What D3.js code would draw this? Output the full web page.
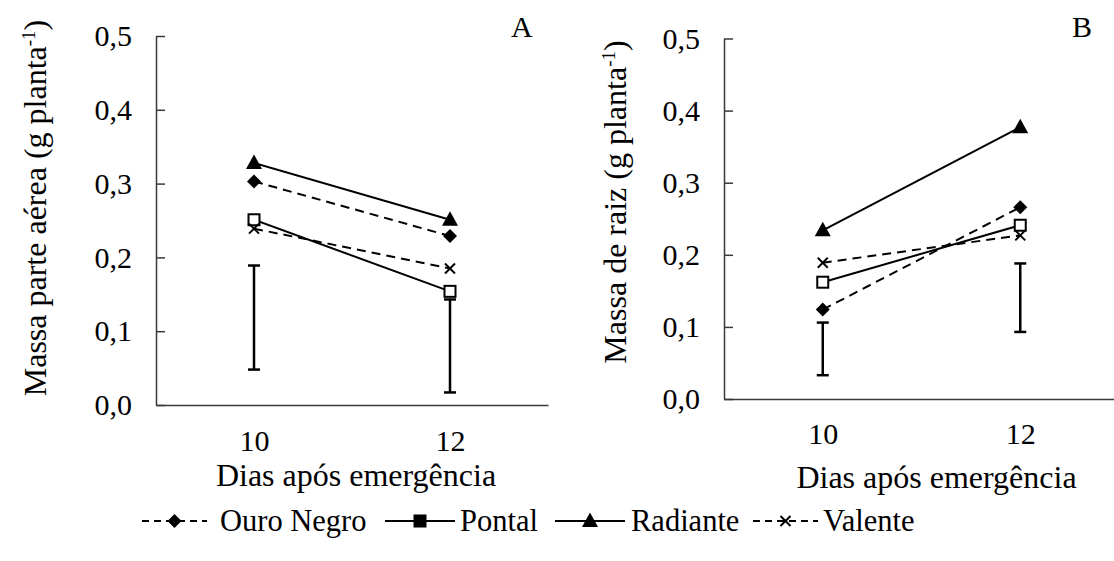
<!DOCTYPE html>
<html>
<head>
<meta charset="utf-8">
<script src="https://cdn.jsdelivr.net/npm/d3@7/dist/d3.min.js"></script>
<style>
  html, body { margin: 0; padding: 0; background: #fff; }
  svg { display: block; }
</style>
</head>
<body>
<svg id="chart" width="1114" height="561" font-family="Liberation Serif, Times New Roman, serif"></svg>
<script>
// Days after emergence (x categories) and y tick values
const days = ["10", "12"];
const yTicks = [0, 0.1, 0.2, 0.3, 0.4, 0.5];

// Panel A: shoot dry mass (g per plant)
const ouroNegroA = [0.303, 0.229];
const pontalA    = [0.251, 0.154];
const radianteA  = [0.328, 0.251];
const valenteA   = [0.239, 0.185];
const errLowA    = [0.048, 0.017];
const errHighA   = [0.189, 0.143];

// Panel B: root dry mass (g per plant)
const ouroNegroB = [0.124, 0.266];
const pontalB    = [0.162, 0.241];
const radianteB  = [0.234, 0.377];
const valenteB   = [0.189, 0.227];
const errLowB    = [0.033, 0.093];
const errHighB   = [0.106, 0.188];

// Cultivar names
const cultivars = ["Ouro Negro", "Pontal", "Radiante", "Valente"];

const svg = d3.select("#chart");
const FS = 30;        // tick labels
const FS_TITLE = 32;  // axis titles
const FS_LEGEND = 30.5;
const FONT = "Liberation Serif, Times New Roman, serif";

// Series styling per cultivar
const styles = {
  "Ouro Negro": { dash: "9,6", symbol: "diamond" },
  "Pontal":     { dash: null,  symbol: "square" },
  "Radiante":   { dash: null,  symbol: "triangle" },
  "Valente":    { dash: "9,6", symbol: "cross" }
};

function drawMarker(g, type, x, y, hollowSquare) {
  if (type === "diamond") {
    g.append("path")
      .attr("d", `M${x},${y - 7}L${x + 7},${y}L${x},${y + 7}L${x - 7},${y}Z`)
      .attr("fill", "#000");
  } else if (type === "square") {
    g.append("rect")
      .attr("x", x - 5.5).attr("y", y - 5.5)
      .attr("width", 11).attr("height", 11)
      .attr("fill", hollowSquare ? "#fff" : "#000")
      .attr("stroke", "#000").attr("stroke-width", 2);
  } else if (type === "triangle") {
    g.append("path")
      .attr("d", `M${x},${y - 8.5}L${x + 8},${y + 6}L${x - 8},${y + 6}Z`)
      .attr("fill", "#000");
  } else if (type === "cross") {
    g.append("path")
      .attr("d", `M${x - 5},${y - 5}L${x + 5},${y + 5}M${x - 5},${y + 5}L${x + 5},${y - 5}`)
      .attr("stroke", "#000").attr("stroke-width", 2).attr("fill", "none");
  }
}

function addText(g, size) {
  return g.append("text")
    .attr("font-family", FONT)
    .attr("font-size", size)
    .attr("fill", "#000");
}

function drawPanel(cfg) {
  const g = svg.append("g");
  const x = d3.scalePoint().domain(days).range([cfg.left, cfg.right]).padding(0.5);
  const y = d3.scaleLinear().domain([0, 0.5]).range([cfg.bottom, cfg.top]);

  // y axis with inward ticks
  const yAxis = d3.axisLeft(y)
    .tickValues(yTicks)
    .tickSizeInner(-9)
    .tickSizeOuter(0)
    .tickPadding(24)
    .tickFormat(d => d.toFixed(1).replace(".", ","));
  const ya = g.append("g").attr("transform", `translate(${cfg.left},0)`).call(yAxis)
    .attr("font-family", FONT).attr("font-size", FS);
  ya.selectAll("text").attr("fill", "#000");
  ya.selectAll("line, path").attr("stroke", "#3a3a3a").attr("stroke-width", 1.5);

  // x axis
  const xAxis = d3.axisBottom(x).tickSize(0).tickSizeOuter(0).tickPadding(cfg.xTickPad);
  const xa = g.append("g").attr("transform", `translate(0,${cfg.bottom})`).call(xAxis)
    .attr("font-family", FONT).attr("font-size", FS);
  xa.selectAll("text").attr("fill", "#000");
  xa.select(".domain").attr("stroke", "#3a3a3a").attr("stroke-width", 1.5);

  // x title
  addText(g, FS_TITLE)
    .attr("x", (x(days[0]) + x(days[1])) / 2 + cfg.xTitleShift)
    .attr("y", cfg.bottom + cfg.xTitleDy)
    .attr("text-anchor", "middle")
    .text("Dias após emergência");

  // y title with superscript
  const yt = addText(g, FS_TITLE)
    .attr("transform", `translate(${cfg.yTitleX},${cfg.yTitleY}) rotate(-90)`)
    .attr("text-anchor", "middle");
  yt.append("tspan").text(cfg.yTitle + " (g planta");
  yt.append("tspan").attr("dy", -11).attr("font-size", 19).text("-1");
  yt.append("tspan").attr("dy", 11).text(")");

  // panel letter
  addText(g, FS)
    .attr("x", cfg.letterX).attr("y", 37)
    .text(cfg.letter);

  // error bars
  days.forEach((d, i) => {
    const cx = x(d);
    const y1 = y(cfg.errLow[i]), y2 = y(cfg.errHigh[i]);
    g.append("line").attr("x1", cx).attr("x2", cx).attr("y1", y1).attr("y2", y2)
      .attr("stroke", "#000").attr("stroke-width", 2.5);
    [y1, y2].forEach(yy => g.append("line")
      .attr("x1", cx - 6).attr("x2", cx + 6).attr("y1", yy).attr("y2", yy)
      .attr("stroke", "#000").attr("stroke-width", 2.5));
  });

  // series lines and markers
  const line = d3.line().x((v, i) => x(days[i])).y(v => y(v));
  cultivars.forEach(name => {
    const vals = cfg.series[name];
    const st = styles[name];
    g.append("path").datum(vals)
      .attr("d", line)
      .attr("fill", "none").attr("stroke", "#000").attr("stroke-width", 2)
      .attr("stroke-dasharray", st.dash);
  });
  cultivars.forEach(name => {
    const vals = cfg.series[name];
    vals.forEach((v, i) => drawMarker(g, styles[name].symbol, x(days[i]), y(v), true));
  });
}

drawPanel({
  letter: "A", letterX: 511,
  left: 156, right: 548, top: 36, bottom: 405,
  yTitleX: 46, yTitleY: 208,
  xTickPad: 25, xTitleShift: 4, xTitleDy: 81,
  yTitle: "Massa parte aérea",
  errLow: errLowA, errHigh: errHighA,
  series: { "Ouro Negro": ouroNegroA, "Pontal": pontalA, "Radiante": radianteA, "Valente": valenteA }
});

drawPanel({
  letter: "B", letterX: 1072,
  left: 724, right: 1119, top: 38.5, bottom: 399,
  yTitleX: 626, yTitleY: 202,
  xTickPad: 24, xTitleShift: 15, xTitleDy: 89,
  yTitle: "Massa de raiz",
  errLow: errLowB, errHigh: errHighB,
  series: { "Ouro Negro": ouroNegroB, "Pontal": pontalB, "Radiante": radianteB, "Valente": valenteB }
});

// Legend
const legend = svg.append("g").attr("transform", "translate(0,521)");
const legendItems = [
  { name: "Ouro Negro", x0: 142, x1: 207, tx: 220 },
  { name: "Pontal",     x0: 385, x1: 455, tx: 460 },
  { name: "Radiante",   x0: 555, x1: 625, tx: 631 },
  { name: "Valente",    x0: 753, x1: 818, tx: 823 }
];
legendItems.forEach(it => {
  const st = styles[it.name];
  legend.append("line")
    .attr("x1", it.x0).attr("x2", it.x1).attr("y1", 0).attr("y2", 0)
    .attr("stroke", "#000").attr("stroke-width", 2)
    .attr("stroke-dasharray", st.dash ? "7,5" : null);
  drawMarker(legend, st.symbol, (it.x0 + it.x1) / 2, 0, false);
  addText(legend, FS_LEGEND)
    .attr("x", it.tx).attr("y", 10)
    .text(it.name);
});
</script>
</body>
</html>
